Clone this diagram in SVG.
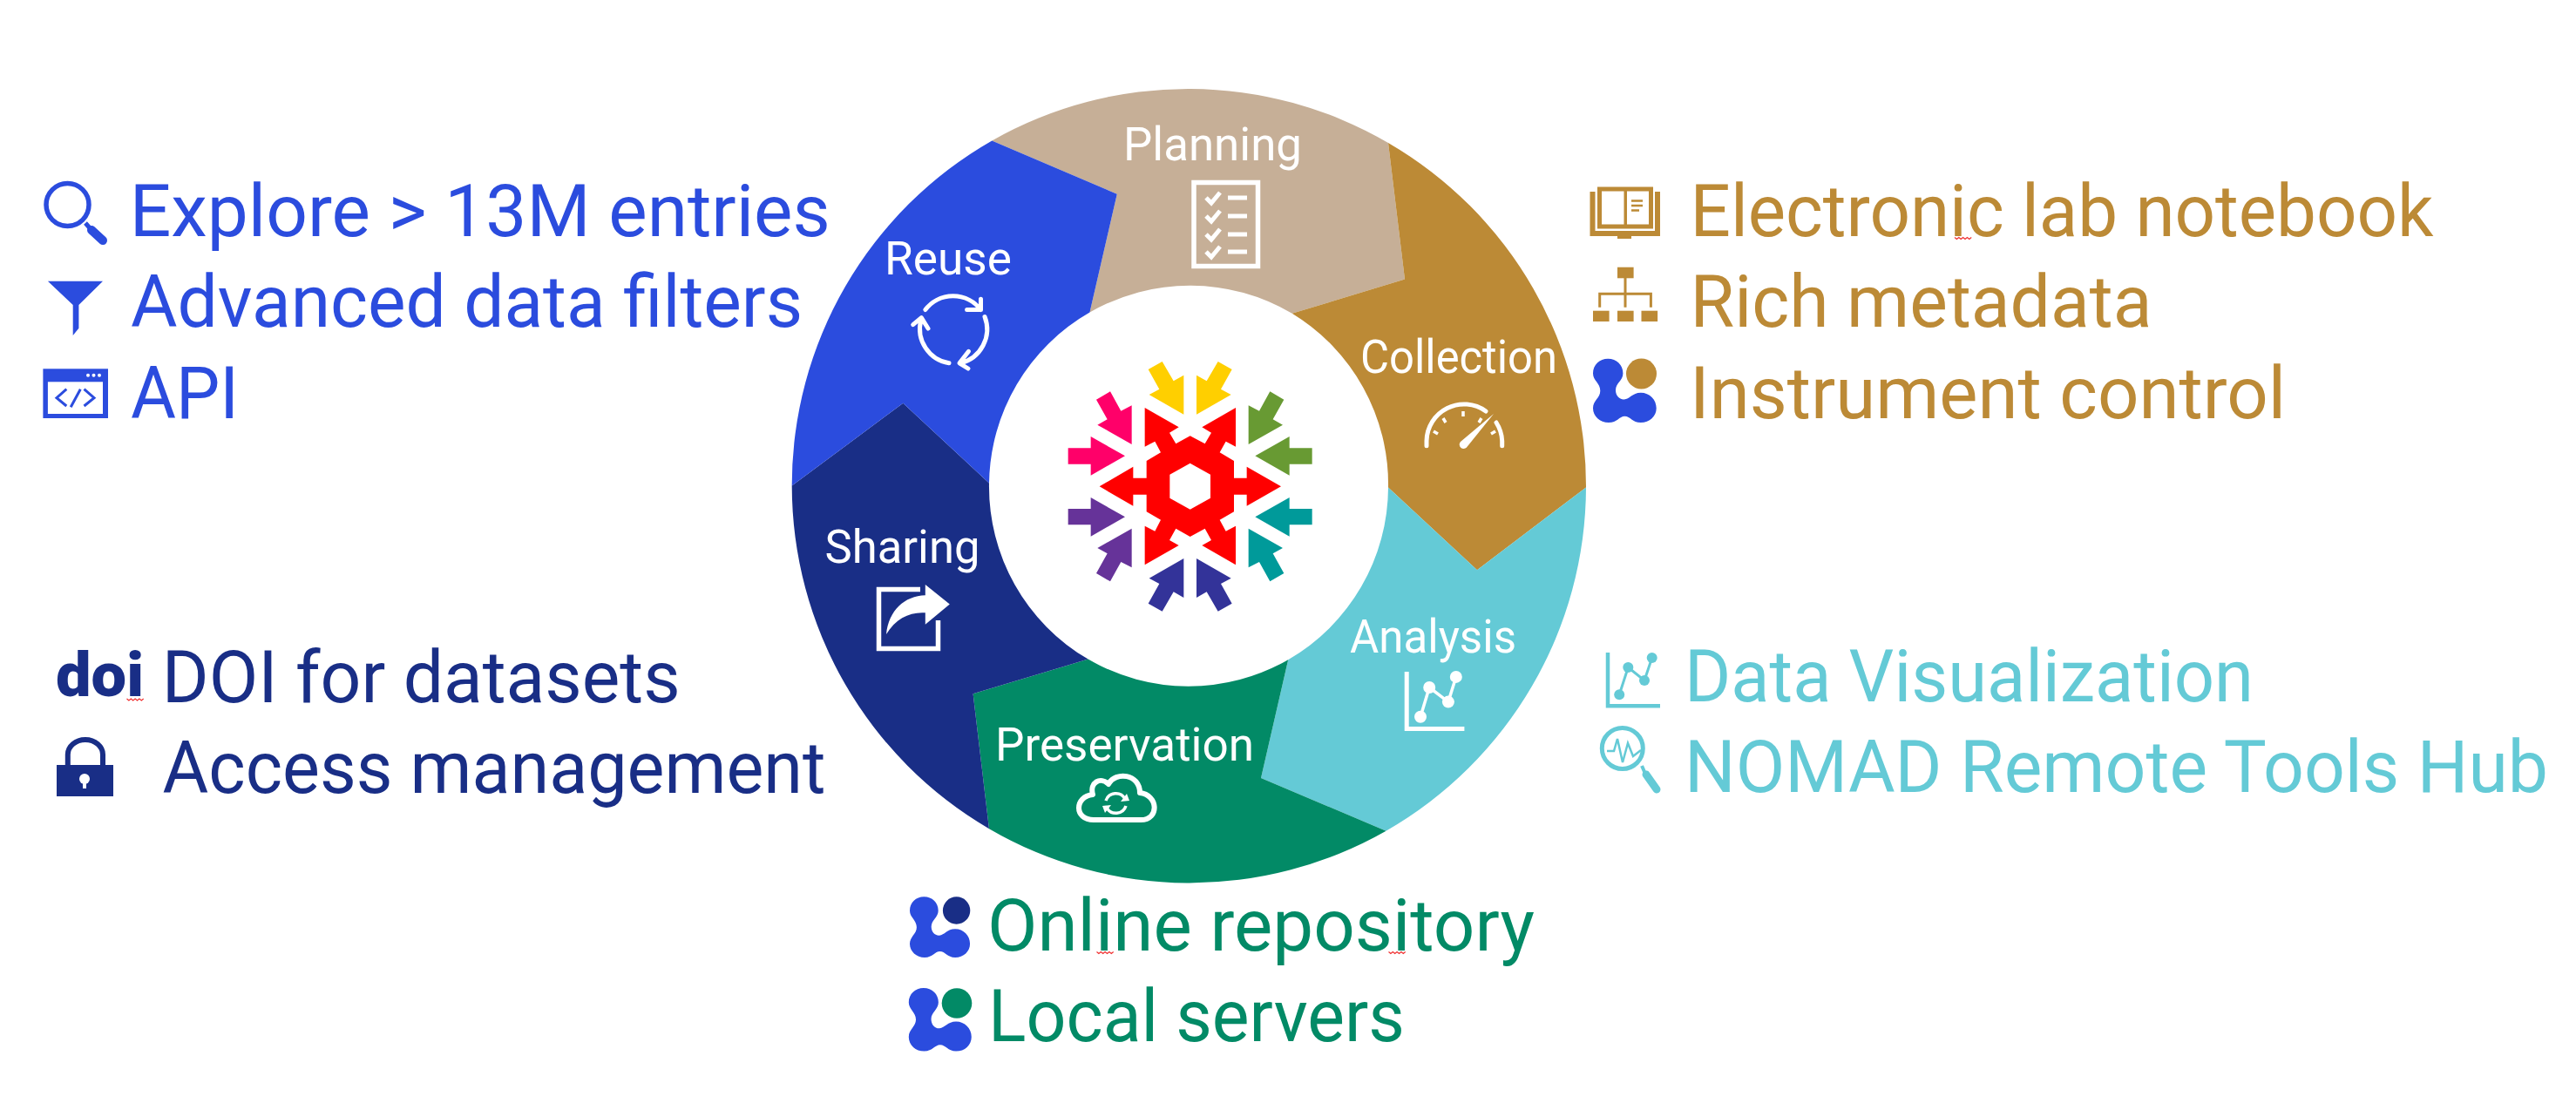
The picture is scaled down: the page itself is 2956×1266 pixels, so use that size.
<svg xmlns="http://www.w3.org/2000/svg" xmlns:xlink="http://www.w3.org/1999/xlink" width="2956" height="1266" viewBox="0 0 2956 1266">
<style>
text{font-family:Roboto,"Noto Sans","Liberation Sans",sans-serif;font-weight:400}
.big{font-size:84px}
.lab{font-size:54px;fill:#fff}
.reuse{fill:#2b4cde}.plan{fill:#c6af97}.coll{fill:#bc8a36}.ana{fill:#64cad6}.pres{fill:#028a66}.shar{fill:#192e86}
.w{fill:none;stroke:#fff;stroke-width:5;stroke-linecap:round;stroke-linejoin:round}
.sq{fill:none;stroke:#f03030;stroke-width:1.2}
</style>
<defs>
<polygon id="a1" points="535,152 535,287 416,219 451,200 413,132 461,105 500,172"/>
<polygon id="a2" points="356,256 356,390 238,323 272,304 234,236 282,208 319,275"/>
<polygon id="a3" points="333,430 215,497 215,458 137,458 137,403 215,403 215,363"/>
<path id="blob" fill="#2b4cde" d="M17.2 0C27 0 34.4 7 34.4 16.7C34.4 25 26 28 26 36C26 42 30 47 35.7 46.7C42 46.5 45 39 54.8 39C65 39 72.7 47 72.7 56.7C72.7 66 65 73.3 54.8 73.3C45 73.3 43 66 36.4 66C30 66 28 73.3 17.9 73.3C8 73.3 0 66 0 56.7C0 48 8.3 45 8.3 36.7C8.3 28 0 25 0 16.7C0 7 7.5 0 17.2 0Z"/>
<path id="chk" d="M0 6L6 12L16 0" fill="none" stroke="#fff" stroke-width="5"/>
<path id="sq" class="sq" d="M0 0l2.4 2l2.4-2l2.4 2l2.4-2l2.4 2l2.4-2l2.4 2l2.4-2"/>
</defs>
<rect width="2956" height="1266" fill="#fff"/>

<g id="wheel">
<g id="seg-planning"><path class="plan" d="M1138.3 161.4A456 456 0 0 1 1593 163.9L1612 320.6L1482.7 359.8A229.5 229.5 0 0 0 1250.5 358.6L1281.8 222.7Z"/>
<text class="lab" x="1289" y="184" textLength="205" lengthAdjust="spacingAndGlyphs">Planning</text>
<rect x="1370" y="209.5" width="73.5" height="96" fill="none" stroke="#fff" stroke-width="5.5"/>
<g><use href="#chk" x="1384" y="221"/><use href="#chk" x="1384" y="242"/><use href="#chk" x="1384" y="263"/><use href="#chk" x="1384" y="283"/></g>
<path d="M1409 227H1431M1409 248H1431M1409 269H1431M1409 289H1431" stroke="#fff" stroke-width="5" fill="none"/>
</g>
<g id="seg-collection"><path class="coll" d="M1593 163.9A456 456 0 0 1 1820 559.4L1695 654.3L1593 559.4A229.5 229.5 0 0 0 1482.7 359.8L1612 320.6Z"/>
<text class="lab" x="1561" y="427.8" textLength="226" lengthAdjust="spacingAndGlyphs">Collection</text>
<path class="w" stroke-linecap="butt" d="M1637 511.7V506A43 43 0 0 1 1705 472M1717 485A43 43 0 0 1 1723.7 506V511.7"/>
<path d="M1656 480l3 5M1679 472v6M1700 480l-3 5M1645 495l5 3M1716 495l-5 3" stroke="#fff" stroke-width="3.5" fill="none"/>
<path fill="#fff" d="M1714 475L1683 513.5A4.5 4.5 0 0 1 1676 507Z"/>
</g>
<g id="seg-analysis"><path class="ana" d="M1820 559.4A456 456 0 0 1 1590.5 953.7L1447 893L1478.2 757.2A229.5 229.5 0 0 0 1593 559.4L1695 654.3Z"/>
<text class="lab" x="1549" y="748.6" textLength="191" lengthAdjust="spacingAndGlyphs">Analysis</text>
<path d="M1614.2 771V836.5H1680.4" fill="none" stroke="#fff" stroke-width="5"/>
<path d="M1630 822.8L1640.2 789L1661.9 805.6L1670.8 776.9" fill="none" stroke="#fff" stroke-width="3.5"/>
<g fill="#fff"><circle cx="1630" cy="822.8" r="7"/><circle cx="1640.2" cy="789" r="7"/><circle cx="1661.9" cy="805.6" r="7"/><circle cx="1670.8" cy="776.9" r="7"/></g>
</g>
<g id="seg-preservation"><path class="pres" d="M1590.5 953.7A456 456 0 0 1 1135 951.2L1116.6 796.3L1248.6 756.6A229.5 229.5 0 0 0 1478.2 757.2L1447 893Z"/>
<text class="lab" x="1142" y="873" textLength="297" lengthAdjust="spacingAndGlyphs">Preservation</text>
<path class="w" style="stroke-width:6" d="M1255 941H1309C1331 941 1329 912 1308 910C1308 888 1280 885 1272 900C1263 891 1250 898 1254 912C1233 914 1232 941 1255 941Z"/>
<path d="M1269 919A12 12 0 0 1 1291 917M1292 925A12 12 0 0 1 1270 927" fill="none" stroke="#fff" stroke-width="3.500"/>
<path d="M1286 920L1296 919L1293 911ZM1275 924L1265 925L1268 933Z" fill="#fff"/>
</g>
<g id="seg-sharing"><path class="shar" d="M1135 951.2A456 456 0 0 1 908.7 557.6L1036.3 462.7L1135 554.5A229.5 229.5 0 0 0 1248.6 756.6L1116.6 796.3Z"/>
<text class="lab" x="946.5" y="646.3" textLength="178" lengthAdjust="spacingAndGlyphs">Sharing</text>
<path d="M1056 676.5H1008.5V744.5H1076.5V712" fill="none" stroke="#fff" stroke-width="5.5"/>
<path fill="#fff" d="M1089.8 693.6L1061.8 670.9V683.2C1038 684 1020 700 1017 727.9C1028 710 1044 702 1061.8 703.3V716.8Z"/>
</g>
<g id="seg-reuse"><path class="reuse" d="M908.7 557.6A456 456 0 0 1 1138.3 161.4L1281.8 222.7L1250.5 358.6A229.5 229.5 0 0 0 1135 554.5L1036.3 462.7Z"/>
<text class="lab" x="1015" y="315" textLength="146" lengthAdjust="spacingAndGlyphs">Reuse</text>
<path class="w" d="M1061.8 355.6A40 40 0 0 1 1125.5 355.6M1125.5 343.3V355.6H1109.6M1130 363.5A40 40 0 0 1 1102 416.8M1111.5 403.3L1101 416.8L1110.9 423M1089 416.8A40 40 0 0 1 1056.7 367.8M1047.7 372.7L1057.3 364.7L1065 377"/>
</g>
</g>

<g id="snowflake" transform="translate(1180 380) scale(.33333)">
<path fill="#f00" fill-rule="evenodd" d="M401 264L518 331L486 350L508 388L557 361L608 388L630 350L598 331L714 264V398L680 380L659 418L708 447V506H752V467L870 535L752 602V563H708V622L659 650L680 689L714 671V805L598 738L630 720L608 680L557 708L508 680L486 720L518 738L401 805V671L436 689L456 650L407 622V563H361V602L245 535L361 467V506H407V447L456 418L436 380L401 398ZM557 455L487 494V575L557 614L627 575V494Z"/>
<g fill="#ffcf00"><use href="#a1"/><use href="#a1" transform="matrix(-1 0 0 1 1114 0)"/></g>
<g fill="#ff0069"><use href="#a2"/><use href="#a3"/></g>
<g fill="#689a33"><use href="#a2" transform="matrix(-1 0 0 1 1114 0)"/><use href="#a3" transform="matrix(-1 0 0 1 1114 0)"/></g>
<g fill="#663399"><use href="#a2" transform="matrix(1 0 0 -1 0 1070)"/><use href="#a3" transform="matrix(1 0 0 -1 0 1070)"/></g>
<g fill="#009a9a"><use href="#a2" transform="matrix(-1 0 0 -1 1114 1070)"/><use href="#a3" transform="matrix(-1 0 0 -1 1114 1070)"/></g>
<g fill="#333399"><use href="#a1" transform="matrix(1 0 0 -1 0 1070)"/><use href="#a1" transform="matrix(-1 0 0 -1 1114 1070)"/></g>
</g>

<g id="list-reuse" class="reuse">
<text class="big" x="148.700" y="270.7" textLength="804" lengthAdjust="spacingAndGlyphs">Explore &gt; 13M entries</text>
<text class="big" x="150" y="375" textLength="771" lengthAdjust="spacingAndGlyphs">Advanced data filters</text>
<text class="big" x="150" y="480" textLength="124" lengthAdjust="spacingAndGlyphs">API</text>
<circle cx="77.5" cy="235" r="24.5" fill="none" stroke="#2b4cde" stroke-width="5.5"/>
<path d="M98 256L105 264" stroke="#2b4cde" stroke-width="5" fill="none"/>
<path d="M105 264L118 276" stroke="#2b4cde" stroke-width="10" stroke-linecap="round" fill="none"/>
<polygon points="54.9,322.7 118,322.7 90.4,350 90.4,376.7 83.7,385 83.7,350"/>
<rect x="49.4" y="423.3" width="74.6" height="56.7"/>
<rect x="54.9" y="438.3" width="63.1" height="36.7" fill="#fff"/>
<g fill="#fff"><circle cx="101" cy="430.7" r="2"/><circle cx="107.5" cy="430.7" r="2"/><circle cx="114" cy="430.7" r="2"/></g>
<path d="M76.3 446.7L65 456.7L76.3 466M96.5 446.7L108 456.7L96.5 466M92.3 446.7L81.2 467.3" fill="none" stroke="#2b4cde" stroke-width="3"/>
</g>

<g id="list-collection" class="coll">
<text class="big" x="1939.500" y="270.7" textLength="853" lengthAdjust="spacingAndGlyphs">Electronic lab notebook</text>
<text class="big" x="1939.500" y="375" textLength="530" lengthAdjust="spacingAndGlyphs">Rich metadata</text>
<text class="big" x="1939" y="480" textLength="684" lengthAdjust="spacingAndGlyphs">Instrument control</text>
<path fill="none" stroke="#bc8a36" stroke-width="6" d="M1827.5 220V268H1902V220"/>
<rect x="1835.5" y="217" width="59" height="43" fill="none" stroke="#bc8a36" stroke-width="5"/>
<rect x="1863.5" y="217" width="3.5" height="43"/>
<rect x="1856" y="268" width="16" height="6"/>
<path d="M1872 230.5h13M1872 236h13M1872 241.500h9" stroke="#bc8a36" stroke-width="2.500" fill="none"/>
<rect x="1856" y="306.700" width="18.600" height="12.600"/><rect x="1828" y="356.700" width="18.600" height="12.300"/><rect x="1856" y="356.700" width="18.600" height="12.300"/><rect x="1883.500" y="356.700" width="18.600" height="12.300"/>
<path d="M1865 319V352.700M1835.700 352.700V337.300H1894.400V352.700" fill="none" stroke="#bc8a36" stroke-width="3"/>
<use href="#blob" x="1828" y="411.700"/>
<circle cx="1883.500" cy="429" r="17.500"/>
<use href="#sq" x="2243" y="272.500"/>
</g>

<g id="list-analysis" class="ana">
<text class="big" x="1933" y="805" textLength="653" lengthAdjust="spacingAndGlyphs">Data Visualization</text>
<text class="big" x="1933" y="909" textLength="991" lengthAdjust="spacingAndGlyphs">NOMAD Remote Tools Hub</text>
<path d="M1845 749V810.200H1905" fill="none" stroke="#64cad6" stroke-width="4.500"/>
<path d="M1858.200 797.300L1868.300 766L1887 781L1895.700 755" fill="none" stroke="#64cad6" stroke-width="3"/>
<circle cx="1858.200" cy="797.300" r="6"/><circle cx="1868.300" cy="766" r="6"/><circle cx="1887" cy="781" r="6"/><circle cx="1895.700" cy="755" r="6"/>
<circle cx="1861.800" cy="859" r="23.500" fill="none" stroke="#64cad6" stroke-width="5"/>
<path d="M1844 862H1852L1856 848L1862 875L1868 853L1874 868L1883 861" fill="none" stroke="#64cad6" stroke-width="2.500"/>
<path d="M1884 879L1888 888" stroke="#64cad6" stroke-width="4" fill="none"/>
<path d="M1889 889L1901 906" stroke="#64cad6" stroke-width="9" stroke-linecap="round" fill="none"/>
</g>

<g id="list-preservation" class="pres">
<text class="big" x="1133" y="1091" textLength="628" lengthAdjust="spacingAndGlyphs">Online repository</text>
<text class="big" x="1134" y="1195" textLength="478" lengthAdjust="spacingAndGlyphs">Local servers</text>
<use href="#blob" transform="translate(1044 1029.300) scale(.95)"/>
<circle cx="1097.600" cy="1045" r="15.700" fill="#192e86"/>
<use href="#blob" transform="translate(1042.800 1134) scale(.99)"/>
<circle cx="1098" cy="1151.500" r="17.300"/>
<use href="#sq" x="1258.500" y="1092.500"/>
<use href="#sq" x="1593.500" y="1092.500"/>
</g>

<g id="list-sharing" class="shar">
<text x="64" y="799.300" font-size="71" textLength="101" lengthAdjust="spacingAndGlyphs" style="font-weight:900">doi</text>
<text class="big" x="185.700" y="805.700" textLength="595" lengthAdjust="spacingAndGlyphs">DOI for datasets</text>
<text class="big" x="186.500" y="910" textLength="761" lengthAdjust="spacingAndGlyphs">Access management</text>
<rect x="65" y="878" width="65" height="36"/>
<path d="M77.800 880V866A20 17 0 0 1 118 866V880" fill="none" stroke="#192e86" stroke-width="6"/>
<circle cx="97" cy="894" r="6" fill="#fff"/>
<rect x="95" y="894" width="4" height="11" fill="#fff"/>
<use href="#sq" x="145.500" y="802"/>
</g>
</svg>
